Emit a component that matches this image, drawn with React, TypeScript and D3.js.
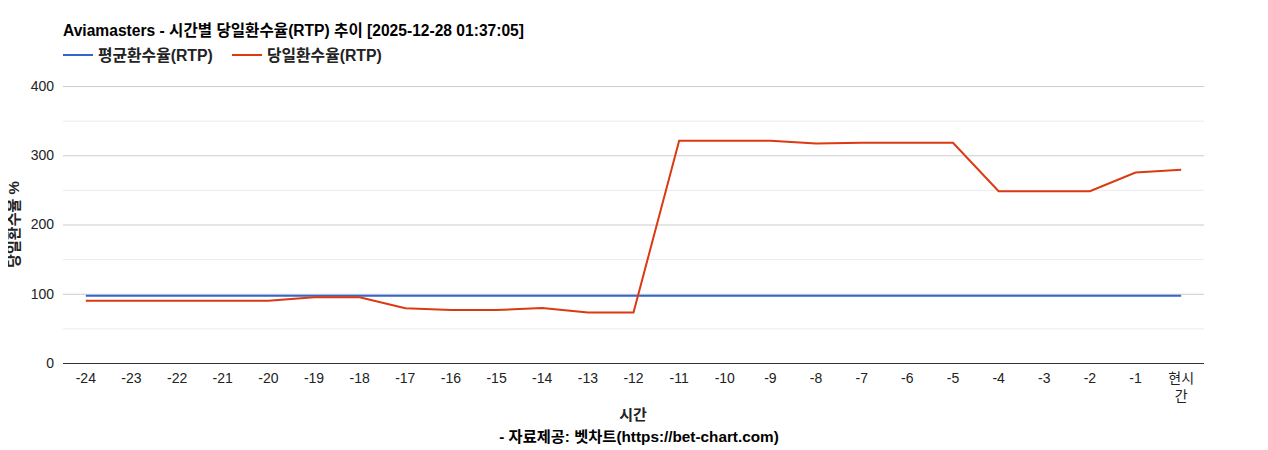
import { useEffect, useRef } from "react";
import * as d3 from "d3";

const hours = [
  "-24", "-23", "-22", "-21", "-20", "-19", "-18", "-17", "-16", "-15", "-14", "-13",
  "-12", "-11", "-10", "-9", "-8", "-7", "-6", "-5", "-4", "-3", "-2", "-1", "현시간",
];
const avgRtp = [
  97, 97, 97, 97, 97, 97, 97, 97, 97, 97, 97, 97,
  97, 97, 97, 97, 97, 97, 97, 97, 97, 97, 97, 97, 97,
];
const dailyRtp = [
  90, 90, 90, 90, 90, 95, 95, 79, 76.5, 76.5, 79.5, 73,
  73, 321, 321, 321, 317, 318, 318, 318, 248, 248, 248, 275, 279,
];
const yTicks = [0, 100, 200, 300, 400];
const minorTicks = [50, 150, 250, 350];

const series = [
  { name: "평균환수율(RTP)", values: avgRtp, color: "#3366cc" },
  { name: "당일환수율(RTP)", values: dailyRtp, color: "#dc3912" },
];

const KR = "Arial, 'Liberation Sans', 'Noto Sans CJK KR', sans-serif";

function App() {
  const svgRef = useRef<SVGSVGElement>(null);

  useEffect(() => {
    const width = 1268;
    const height = 450;
    const margin = { top: 86, right: 64, bottom: 87, left: 63 };

    const svg = d3.select(svgRef.current).attr("width", width).attr("height", height);
    svg.selectAll("*").remove();

    const x = d3
      .scaleBand()
      .domain(hours)
      .range([margin.left, width - margin.right]);
    const cx = (h: string) => (x(h) as number) + x.bandwidth() / 2;

    const y = d3
      .scaleLinear()
      .domain([0, 400])
      .range([height - margin.bottom, margin.top]);

    // grid
    svg
      .selectAll(".minor")
      .data(minorTicks)
      .enter()
      .append("line")
      .attr("x1", margin.left)
      .attr("x2", width - margin.right)
      .attr("y1", (d) => y(d) + 0.5)
      .attr("y2", (d) => y(d) + 0.5)
      .attr("stroke", "#ebebeb")
      .attr("stroke-width", 1);

    svg
      .selectAll(".major")
      .data(yTicks.filter((d) => d > 0))
      .enter()
      .append("line")
      .attr("x1", margin.left)
      .attr("x2", width - margin.right)
      .attr("y1", (d) => y(d) + 0.5)
      .attr("y2", (d) => y(d) + 0.5)
      .attr("stroke", "#cccccc")
      .attr("stroke-width", 1);

    // y labels
    svg
      .selectAll(".ylab")
      .data(yTicks)
      .enter()
      .append("text")
      .attr("x", margin.left - 9)
      .attr("y", (d) => y(d))
      .attr("dy", "0.35em")
      .attr("text-anchor", "end")
      .style("font-family", KR)
      .style("font-size", "14px")
      .attr("fill", "#222")
      .text((d) => d);

    // lines
    const line = d3
      .line<number>()
      .x((_, i) => cx(hours[i]))
      .y((d) => y(d));

    series.forEach((s) => {
      svg
        .append("path")
        .datum(s.values)
        .attr("d", line)
        .attr("fill", "none")
        .attr("stroke", s.color)
        .attr("stroke-width", 2);
    });

    // baseline
    svg
      .append("line")
      .attr("x1", margin.left)
      .attr("x2", width - margin.right)
      .attr("y1", y(0) + 0.5)
      .attr("y2", y(0) + 0.5)
      .attr("stroke", "#333")
      .attr("stroke-width", 1);

    // x labels
    const xl = svg
      .selectAll(".xlab")
      .data(hours)
      .enter()
      .append("text")
      .attr("x", (d) => cx(d))
      .attr("y", y(0) + 20)
      .attr("text-anchor", "middle")
      .style("font-family", KR)
      .style("font-size", "14px")
      .attr("fill", "#222");
    xl.each(function (d) {
      const t = d3.select(this);
      if (d === "현시간") {
        t.append("tspan").attr("x", cx(d)).text("현시");
        t.append("tspan").attr("x", cx(d)).attr("dy", 18).text("간");
      } else {
        t.text(d);
      }
    });

    // axis titles
    svg
      .append("text")
      .attr("x", 633)
      .attr("y", 420)
      .attr("text-anchor", "middle")
      .style("font-family", KR)
      .style("font-size", "15px")
      .style("font-weight", "bold")
      .attr("fill", "#222")
      .text("시간");
    svg
      .append("text")
      .attr("x", 639)
      .attr("y", 442)
      .attr("text-anchor", "middle")
      .style("font-family", KR)
      .style("font-size", "15.3px")
      .style("font-weight", "bold")
      .attr("fill", "#000")
      .text("- 자료제공: 벳차트(https://bet-chart.com)");

    svg
      .append("text")
      .attr("transform", `translate(19,${y(200)}) rotate(-90)`)
      .attr("text-anchor", "middle")
      .style("font-family", KR)
      .style("font-size", "15px")
      .style("font-weight", "bold")
      .attr("fill", "#222")
      .text("당일환수율 %");

    // title
    svg
      .append("text")
      .attr("x", margin.left)
      .attr("y", 36)
      .style("font-family", KR)
      .style("font-size", "15.6px")
      .style("font-weight", "bold")
      .attr("fill", "#000")
      .text("Aviamasters - 시간별 당일환수율(RTP) 추이 [2025-12-28 01:37:05]");

    // legend
    const legendX = [63, 232];
    series.forEach((s, i) => {
      const g = svg.append("g").attr("transform", `translate(${legendX[i]},55)`);
      g.append("line")
        .attr("x1", 0)
        .attr("x2", 30)
        .attr("y1", 0)
        .attr("y2", 0)
        .attr("stroke", s.color)
        .attr("stroke-width", 2);
      g.append("text")
        .attr("x", 35)
        .attr("y", 0)
        .attr("dy", "0.35em")
        .style("font-family", KR)
        .style("font-size", "15.8px")
        .style("font-weight", "bold")
        .attr("fill", "#222")
        .text(s.name);
    });
  }, []);

  return (
    <div style={{ margin: -8 }}>
      <svg ref={svgRef}></svg>
    </div>
  );
}

export default App;
